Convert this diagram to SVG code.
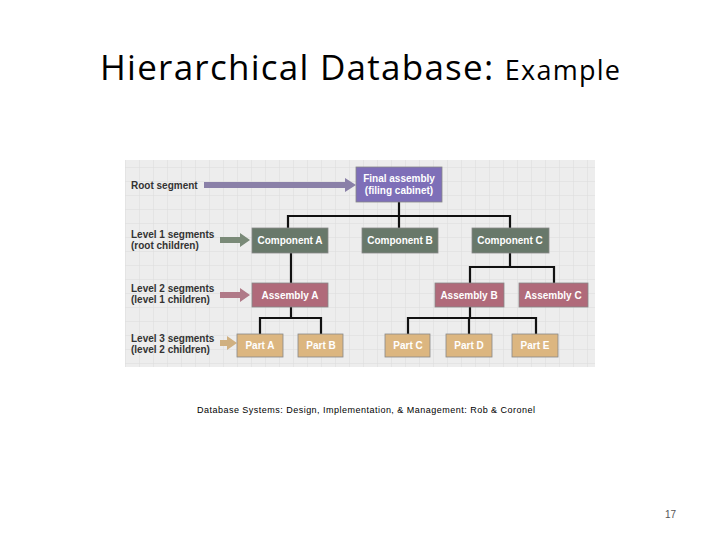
<svg xmlns="http://www.w3.org/2000/svg" width="720" height="540" viewBox="0 0 720 540">
<defs>
<pattern id="grid" width="14" height="14" patternUnits="userSpaceOnUse"><rect width="14" height="14" fill="#ededed"/><path d="M14 0V14H0" fill="none" stroke="#dcdcdc" stroke-width="1"/></pattern>
<style>
.lbl{font-family:"Liberation Sans",Arial,sans-serif;font-size:10px;font-weight:bold;fill:#333}
.nt{font-family:"Liberation Sans",Arial,sans-serif;font-size:10px;font-weight:bold;fill:#fff;text-anchor:middle}
.ln{stroke:#111;stroke-width:2.2;fill:none}
.box{stroke:#888;stroke-width:0.8}
</style>
</defs>
<rect width="720" height="540" fill="#fff"/>
<text x="360" y="80" text-anchor="middle" font-family="Open Sans,Liberation Sans,sans-serif" font-size="35" fill="#000" textLength="520">Hierarchical Database: <tspan font-size="27">Example</tspan></text>
<rect x="125" y="160" width="470" height="207" fill="url(#grid)"/>
<g id="connectors">
<path class="ln" d="M399 202V216M288 228V216H510V228M399 216V228"/>
<path class="ln" d="M291 253V283M510 253V267M470 283V267H554V283"/>
<path class="ln" d="M291 307V318M260 334V318H321V334M470 307V318M408 334V318H536V334M469 318V334"/>
<path d="M204 182H345V178L356 185L345 192V188H204Z" fill="#8a80a8"/>
<path d="M220 237H240V233L250 240L240 247V243H220Z" fill="#7a8a78"/>
<path d="M220 292H240V288L250 295L240 302V298H220Z" fill="#b07a88"/>
<path d="M220 340H227V336L237 343L227 350V346H220Z" fill="#d0b080"/>
</g>
<g class="lbl">
<text x="131" y="189">Root segment</text>
<text x="131" y="238">Level 1 segments</text><text x="131" y="249">(root children)</text>
<text x="131" y="292">Level 2 segments</text><text x="131" y="303">(level 1 children)</text>
<text x="131" y="342">Level 3 segments</text><text x="131" y="353">(level 2 children)</text>
</g>
<g id="root"><rect class="box" x="356" y="167" width="86" height="35" fill="#7e6fb8"/><text class="nt" x="399" y="182">Final assembly</text><text class="nt" x="399" y="194">(filing cabinet)</text></g>
<g id="compA"><rect class="box" x="252" y="228" width="76" height="25" fill="#68786a"/><text class="nt" x="290" y="244">Component A</text></g>
<g id="compB"><rect class="box" x="362" y="228" width="76" height="25" fill="#68786a"/><text class="nt" x="400" y="244">Component B</text></g>
<g id="compC"><rect class="box" x="472" y="228" width="77" height="25" fill="#68786a"/><text class="nt" x="510" y="244">Component C</text></g>
<g id="asmA"><rect class="box" x="252" y="283" width="76" height="24" fill="#b06a7a"/><text class="nt" x="290" y="299">Assembly A</text></g>
<g id="asmB"><rect class="box" x="435" y="283" width="69" height="24" fill="#b06a7a"/><text class="nt" x="469" y="299">Assembly B</text></g>
<g id="asmC"><rect class="box" x="519" y="283" width="69" height="24" fill="#b06a7a"/><text class="nt" x="553" y="299">Assembly C</text></g>
<g id="partA"><rect class="box" x="237" y="334" width="46" height="23" fill="#dcb680"/><text class="nt" x="260" y="349">Part A</text></g>
<g id="partB"><rect class="box" x="298" y="334" width="45" height="23" fill="#dcb680"/><text class="nt" x="321" y="349">Part B</text></g>
<g id="partC"><rect class="box" x="385" y="334" width="45" height="23" fill="#dcb680"/><text class="nt" x="408" y="349">Part C</text></g>
<g id="partD"><rect class="box" x="446" y="334" width="46" height="23" fill="#dcb680"/><text class="nt" x="469" y="349">Part D</text></g>
<g id="partE"><rect class="box" x="512" y="334" width="46" height="23" fill="#dcb680"/><text class="nt" x="535" y="349">Part E</text></g>
<text x="366" y="413" text-anchor="middle" font-family="Liberation Sans,Arial,sans-serif" font-size="9" fill="#000" textLength="338">Database Systems: Design, Implementation, &amp; Management: Rob &amp; Coronel</text>
<text x="676" y="518" text-anchor="end" font-family="Liberation Sans,Arial,sans-serif" font-size="10" fill="#555">17</text>
</svg>
